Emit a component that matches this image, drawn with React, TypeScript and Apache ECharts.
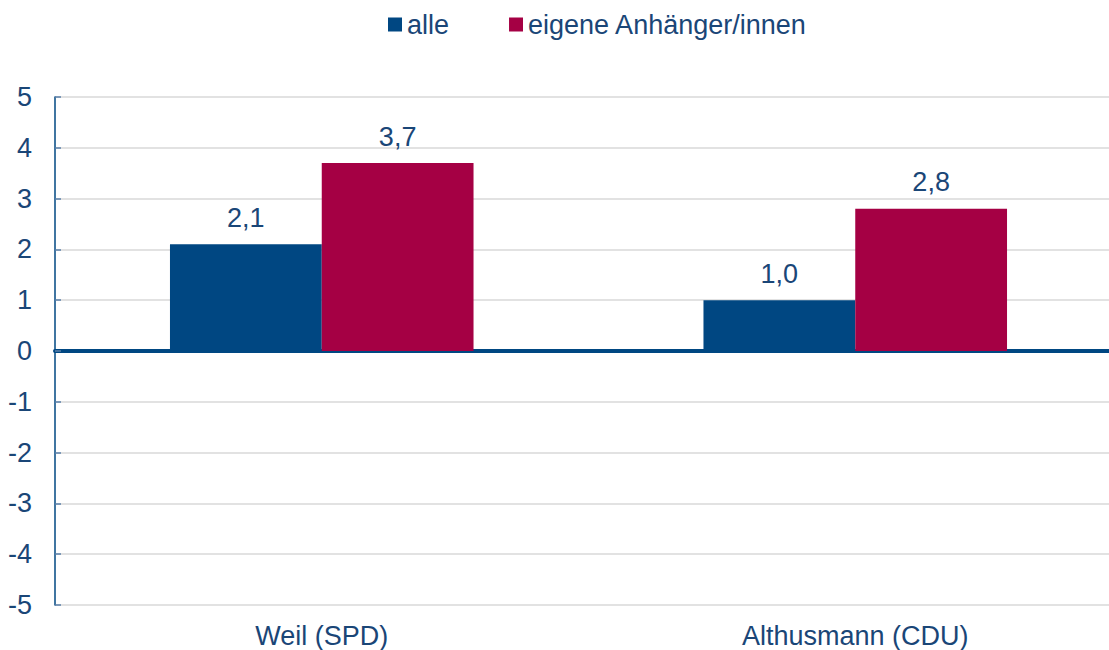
import React, { useEffect, useRef } from "react";
import * as echarts from "echarts";

const categories = ["Weil (SPD)", "Althusmann (CDU)"];
const seriesNames = ["alle", "eigene Anhänger/innen"];
const alleValues = [2.1, 1.0];
const anhaengerValues = [3.7, 2.8];
const yMin = -5;
const yMax = 5;
const yInterval = 1;

const BLUE = "#004782";
const RED = "#a50044";
const TEXT = "#1a4677";
const FONT = "'Liberation Sans', Arial, sans-serif";
const FS = 27;

const fmt = (v: number) => v.toFixed(1).replace(".", ",");

export default function App() {
  const ref = useRef<HTMLDivElement>(null);
  useEffect(() => {
    if (!ref.current) return;
    const chart = echarts.init(ref.current, undefined, { renderer: "svg" });
    const label = {
      show: true,
      position: "top" as const,
      distance: 13,
      color: TEXT,
      fontSize: FS,
      fontFamily: FONT,
      formatter: (p: any) => fmt(p.value),
    };
    chart.setOption({
      animation: false,
      textStyle: { fontFamily: FONT },
      legend: {
        top: 11,
        left: 388,
        padding: 0,
        itemWidth: 14,
        itemHeight: 14,
        itemGap: 60,
        icon: "rect",
        textStyle: { color: TEXT, fontSize: FS, fontFamily: FONT },
        data: seriesNames,
      },
      grid: { left: 55, right: 0, top: 97, bottom: 45, containLabel: false },
      xAxis: {
        type: "category",
        data: categories,
        axisLine: { onZero: true, lineStyle: { color: BLUE, width: 4 } },
        axisTick: { show: false },
        axisLabel: {
          color: TEXT,
          fontSize: FS,
          fontFamily: FONT,
          margin: 17,
        },
        position: "bottom",
      },
      yAxis: {
        type: "value",
        min: yMin,
        max: yMax,
        interval: yInterval,
        axisLine: { show: true, lineStyle: { color: BLUE, width: 1.5 } },
        axisTick: { show: true, inside: true, length: 6, lineStyle: { color: "#5a7fa8", width: 1.5 } },
        axisLabel: { color: TEXT, fontSize: FS, fontFamily: FONT, margin: 23 },
        splitLine: { show: true, lineStyle: { color: "#d9d9d9", width: 1.6 } },
      },
      series: [
        {
          name: seriesNames[0],
          type: "bar",
          data: alleValues,
          itemStyle: { color: BLUE },
          barWidth: "28.45%",
          barGap: "0%",
          label,
        },
        {
          name: seriesNames[1],
          type: "bar",
          data: anhaengerValues,
          itemStyle: { color: RED },
          barWidth: "28.45%",
          barGap: "0%",
          label,
        },
      ],
    });
    return () => chart.dispose();
  }, []);
  return (
    <div
      style={{
        position: "absolute",
        left: 0,
        top: 0,
        width: 1109,
        height: 650,
        overflow: "hidden",
        background: "#fff",
      }}
    >
      <div ref={ref} style={{ width: 1122, height: 650 }} />
    </div>
  );
}
